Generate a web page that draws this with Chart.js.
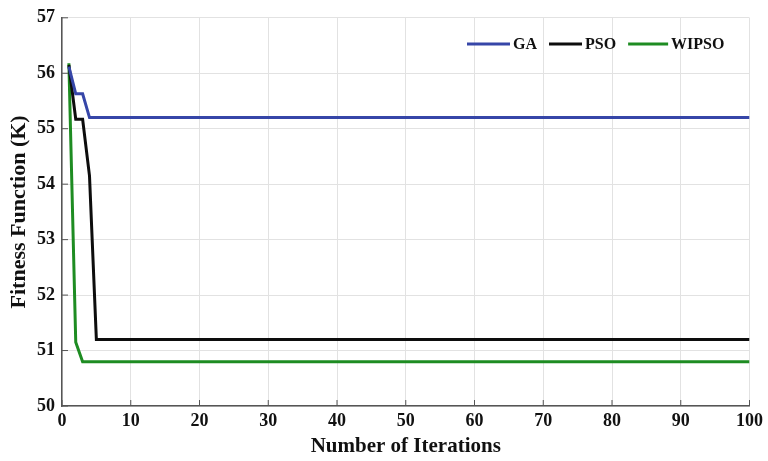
<!DOCTYPE html>
<html>
<head>
<meta charset="utf-8">
<script src="https://cdn.jsdelivr.net/npm/chart.js@4/dist/chart.umd.min.js"></script>
<style>
  html, body { margin: 0; padding: 0; background: #fff; }
  #wrap { width: 768px; height: 461px; }
</style>
</head>
<body>
<div id="wrap"><canvas id="fit"></canvas></div>
<script>
// iterations where the curves change, plus the last one
var iterations = [1, 2, 3, 4, 5, 100];
var gaVals     = [56.12, 55.63, 55.63, 55.2, 55.2, 55.2];
var psoVals    = [56.15, 55.17, 55.17, 54.15, 51.2, 51.2];
var wipsoVals  = [56.18, 51.15, 50.8, 50.8, 50.8, 50.8];
var xTicks = [0, 10, 20, 30, 40, 50, 60, 70, 80, 90, 100];
var yTicks = [50, 51, 52, 53, 54, 55, 56, 57];

var serif = "'Liberation Serif', 'Times New Roman', serif";

function pts(vals) {
  return vals.map(function (v, i) { return { x: iterations[i], y: v }; });
}

// legend drawn inside the plot, top right
var inLegend = {
  id: 'inLegend',
  afterDraw: function (chart) {
    var ctx = chart.ctx;
    var x = 467, y = 44;
    var lens = [43, 33, 40];
    ctx.save();
    ctx.font = 'bold 16px ' + serif;
    ctx.textBaseline = 'middle';
    chart.data.datasets.forEach(function (ds, i) {
      ctx.strokeStyle = ds.borderColor;
      ctx.lineWidth = 3;
      ctx.beginPath();
      ctx.moveTo(x, y);
      ctx.lineTo(x + lens[i], y);
      ctx.stroke();
      x += lens[i] + 3;
      ctx.fillStyle = '#111';
      ctx.fillText(ds.label, x, y + 1);
      x += ctx.measureText(ds.label).width + 12;
    });
    ctx.restore();
  }
};

// small inward tick marks on the left and bottom axes
var inTicks = {
  id: 'inTicks',
  afterDatasetsDraw: function (chart) {
    var ctx = chart.ctx, a = chart.chartArea;
    var xs = chart.scales.x, ys = chart.scales.y;
    ctx.save();
    ctx.strokeStyle = '#555';
    ctx.lineWidth = 1;
    ctx.beginPath();
    yTicks.forEach(function (v) {
      var py = ys.getPixelForValue(v);
      ctx.moveTo(a.left, py); ctx.lineTo(a.left + 6, py);
    });
    xTicks.forEach(function (v) {
      var px = xs.getPixelForValue(v);
      ctx.moveTo(px, a.bottom); ctx.lineTo(px, a.bottom - 6);
    });
    ctx.stroke();
    ctx.restore();
  }
};

new Chart(document.getElementById('fit'), {
  type: 'line',
  data: {
    datasets: [
      { label: 'GA', data: pts(gaVals), borderColor: '#3646a8', borderWidth: 3 },
      { label: 'PSO', data: pts(psoVals), borderColor: '#0d0d0d', borderWidth: 3 },
      { label: 'WIPSO', data: pts(wipsoVals), borderColor: '#1e8c22', borderWidth: 3 }
    ]
  },
  options: {
    responsive: true,
    maintainAspectRatio: false,
    animation: false,
    layout: { padding: { top: 15, right: 13, left: 6, bottom: 2 } },
    elements: { point: { radius: 0 }, line: { tension: 0 } },
    plugins: { legend: { display: false }, tooltip: { enabled: false } },
    scales: {
      x: {
        type: 'linear', min: 0, max: 100,
        afterBuildTicks: function (s) { s.ticks = xTicks.map(function (v) { return { value: v }; }); },
        afterFit: function (s) { s.height = 53; },
        grid: { color: '#e2e2e2', drawTicks: false },
        border: { color: '#555', width: 1.5 },
        ticks: { color: '#111', padding: 5, maxRotation: 0, font: { family: serif, weight: 'bold', size: 18 } },
        title: { display: true, text: 'Number of Iterations', color: '#111', padding: 0,
                 font: { family: serif, weight: 'bold', size: 21 } }
      },
      y: {
        min: 50, max: 57,
        afterBuildTicks: function (s) { s.ticks = yTicks.map(function (v) { return { value: v }; }); },
        afterFit: function (s) { s.width = 56; },
        grid: { color: '#e2e2e2', drawTicks: false },
        border: { color: '#555', width: 1.5 },
        ticks: { color: '#111', padding: 7, font: { family: serif, weight: 'bold', size: 18 } },
        title: { display: true, text: 'Fitness Function (K)', color: '#111', padding: 0,
                 font: { family: serif, weight: 'bold', size: 22 } }
      }
    }
  },
  plugins: [inLegend, inTicks]
});
</script>
</body>
</html>
